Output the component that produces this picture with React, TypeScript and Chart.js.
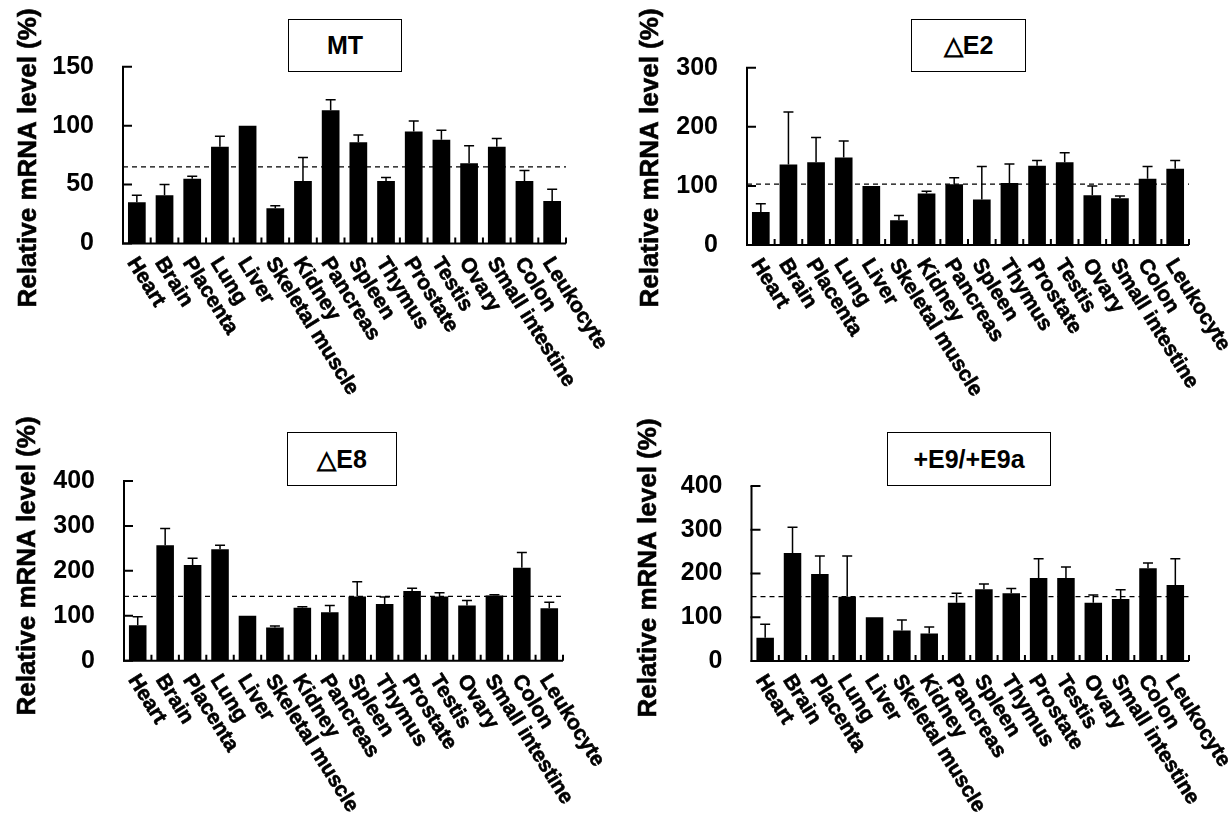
import React, { useEffect, useRef } from 'react';
import { Chart, registerables } from 'chart.js';

Chart.register(...registerables);

const W = 1231;
const H = 818;
const FONT = "'Liberation Sans', Arial, Helvetica, sans-serif";

const tissues = [
  'Heart', 'Brain', 'Placenta', 'Lung', 'Liver', 'Skeletal muscle', 'Kidney', 'Pancreas',
  'Spleen', 'Thymus', 'Prostate', 'Testis', 'Ovary', 'Small intestine', 'Colon', 'Leukocyte',
];

const mtValues = [35, 41, 55, 82, 100, 30, 53, 113, 86, 53, 95, 88, 68, 82, 53, 36];
const mtErrors = [6, 9, 2, 9, 0, 2, 20, 9, 6, 3, 9, 8, 15, 7, 9, 10];
const mtReference = 65;

const e2Values = [56, 136, 140, 148, 100, 42, 87, 103, 77, 105, 134, 140, 84, 79, 112, 129];
const e2Errors = [14, 89, 42, 28, 0, 8, 4, 11, 56, 32, 9, 16, 16, 4, 21, 14];
const e2Reference = 103;

const e8Values = [79, 257, 213, 248, 100, 74, 118, 108, 143, 126, 155, 143, 123, 145, 207, 117];
const e8Errors = [19, 37, 15, 9, 0, 3, 2, 15, 33, 16, 6, 8, 11, 2, 34, 13];
const e8Reference = 143;

const e9Values = [53, 247, 199, 147, 100, 70, 63, 133, 164, 155, 190, 190, 133, 142, 212, 174];
const e9Errors = [31, 59, 41, 93, 0, 24, 15, 22, 12, 11, 44, 25, 18, 21, 12, 60];
const e9Reference = 147;

const yAxisTitle = 'Relative mRNA level (%)';

type Panel = {
  title: string;
  values: number[];
  errors: number[];
  reference: number;
  max: number;
  step: number;
  left: number;
  right: number;
  top: number;
  bottom: number;
  box: { x: number; y: number; w: number; h: number };
  titleX: number;
  titleY: number;
};

const panels: Panel[] = [
  {
    title: 'MT', values: mtValues, errors: mtErrors, reference: mtReference, max: 150, step: 50,
    left: 123, right: 566, top: 66.7, bottom: 243.5,
    box: { x: 288, y: 19, w: 114, h: 53 }, titleX: 29, titleY: 158,
  },
  {
    title: '△E2', values: e2Values, errors: e2Errors, reference: e2Reference, max: 300, step: 100,
    left: 747, right: 1189, top: 67.7, bottom: 245,
    box: { x: 911, y: 19, w: 115, h: 53 }, titleX: 651, titleY: 158,
  },
  {
    title: '△E8', values: e8Values, errors: e8Errors, reference: e8Reference, max: 400, step: 100,
    left: 124, right: 563, top: 481, bottom: 660.7,
    box: { x: 287, y: 432, w: 110, h: 54 }, titleX: 28, titleY: 566,
  },
  {
    title: '+E9/+E9a', values: e9Values, errors: e9Errors, reference: e9Reference, max: 400, step: 100,
    left: 751.5, right: 1189, top: 486, bottom: 661,
    box: { x: 887, y: 432, w: 164, h: 54 }, titleX: 649, titleY: 568,
  },
];

function decorPlugin(p: Panel) {
  return {
    id: 'decor',
    afterDatasetsDraw(chart: any) {
      const ctx: CanvasRenderingContext2D = chart.ctx;
      const xs = chart.scales.x;
      const ys = chart.scales.y;
      const { left, right, top, bottom } = chart.chartArea;
      ctx.save();
      ctx.strokeStyle = '#000';
      ctx.fillStyle = '#000';

      // error bars (upper only)
      ctx.lineWidth = 1.5;
      p.values.forEach((v, i) => {
        const e = p.errors[i];
        if (!e) return;
        const cx = xs.getPixelForValue(i);
        const y0 = ys.getPixelForValue(v);
        const y1 = ys.getPixelForValue(v + e);
        ctx.beginPath();
        ctx.moveTo(cx, y0);
        ctx.lineTo(cx, y1);
        ctx.moveTo(cx - 5, y1);
        ctx.lineTo(cx + 5, y1);
        ctx.stroke();
      });

      // dashed reference line
      ctx.setLineDash([5, 4]);
      ctx.lineWidth = 1.2;
      const yr = ys.getPixelForValue(p.reference);
      ctx.beginPath();
      ctx.moveTo(left, yr);
      ctx.lineTo(right, yr);
      ctx.stroke();
      ctx.setLineDash([]);

      // axes
      ctx.lineWidth = 2;
      ctx.beginPath();
      ctx.moveTo(left, top);
      ctx.lineTo(left, bottom);
      ctx.lineTo(right, bottom);
      ctx.stroke();

      // y ticks pointing inward
      ctx.beginPath();
      ys.ticks.forEach((t: any) => {
        const py = ys.getPixelForValue(t.value);
        ctx.moveTo(left - 1, py);
        ctx.lineTo(left + 9, py);
      });
      ctx.stroke();

      // x category boundary ticks pointing up
      const half = (xs.getPixelForValue(1) - xs.getPixelForValue(0)) / 2;
      ctx.beginPath();
      for (let i = 0; i < tissues.length; i++) {
        const bx = xs.getPixelForValue(i) + half;
        ctx.moveTo(bx, bottom);
        ctx.lineTo(bx, bottom - 6);
      }
      ctx.stroke();

      // rotated category labels
      ctx.font = `bold 21px ${FONT}`;
      ctx.textAlign = 'left';
      ctx.textBaseline = 'alphabetic';
      ctx.lineWidth = 0.6;
      tissues.forEach((lab, i) => {
        const cx = xs.getPixelForValue(i);
        ctx.save();
        ctx.translate(cx - 10, bottom + 19);
        ctx.rotate((58 * Math.PI) / 180);
        ctx.fillText(lab, 0, 0);
        ctx.strokeText(lab, 0, 0);
        ctx.restore();
      });

      // y axis title
      ctx.font = `bold 26px ${FONT}`;
      ctx.save();
      ctx.translate(p.titleX, p.titleY);
      ctx.rotate(-Math.PI / 2);
      ctx.textAlign = 'center';
      ctx.textBaseline = 'middle';
      ctx.fillText(yAxisTitle, 0, 0);
      ctx.strokeText(yAxisTitle, 0, 0);
      ctx.restore();

      ctx.restore();
    },
  };
}

function PanelChart({ p }: { p: Panel }) {
  const ref = useRef<HTMLCanvasElement | null>(null);
  useEffect(() => {
    if (!ref.current) return;
    const chart = new Chart(ref.current, {
      type: 'bar',
      data: {
        labels: tissues,
        datasets: [
          {
            data: p.values,
            backgroundColor: '#000',
            borderWidth: 0,
            barPercentage: 0.64,
            categoryPercentage: 1,
          },
        ],
      },
      options: {
        responsive: false,
        animation: false,
        devicePixelRatio: 1,
        layout: { padding: { left: 0, top: p.top, right: W - p.right, bottom: H - p.bottom } },
        plugins: { legend: { display: false }, tooltip: { enabled: false }, title: { display: false } },
        scales: {
          x: { display: false, offset: true },
          y: {
            min: 0,
            max: p.max,
            ticks: {
              stepSize: p.step,
              padding: 29,
              color: '#000',
              font: { family: FONT, weight: 'bold', size: 25 },
            },
            grid: { display: false, drawTicks: false },
            border: { display: false },
            afterFit: (s: any) => {
              s.width = p.left;
            },
          },
        },
      } as any,
      plugins: [decorPlugin(p)],
    });
    return () => chart.destroy();
  }, [p]);
  return (
    <canvas
      ref={ref}
      width={W}
      height={H}
      style={{ position: 'absolute', left: 0, top: 0, width: W, height: H }}
    />
  );
}

export default function App() {
  return (
    <div style={{ position: 'fixed', left: 0, top: 0, width: W, height: H, background: '#fff', overflow: 'hidden' }}>
      {panels.map((p) => (
        <PanelChart key={p.title} p={p} />
      ))}
      {panels.map((p) => (
        <div
          key={'box-' + p.title}
          style={{
            position: 'absolute',
            left: p.box.x,
            top: p.box.y,
            width: p.box.w,
            height: p.box.h,
            boxSizing: 'border-box',
            border: '1.5px solid #000',
            background: '#fff',
            display: 'flex',
            alignItems: 'center',
            justifyContent: 'center',
            fontFamily: FONT,
            fontWeight: 'bold',
            fontSize: 25,
            color: '#000',
          }}
        >
          {p.title}
        </div>
      ))}
    </div>
  );
}
